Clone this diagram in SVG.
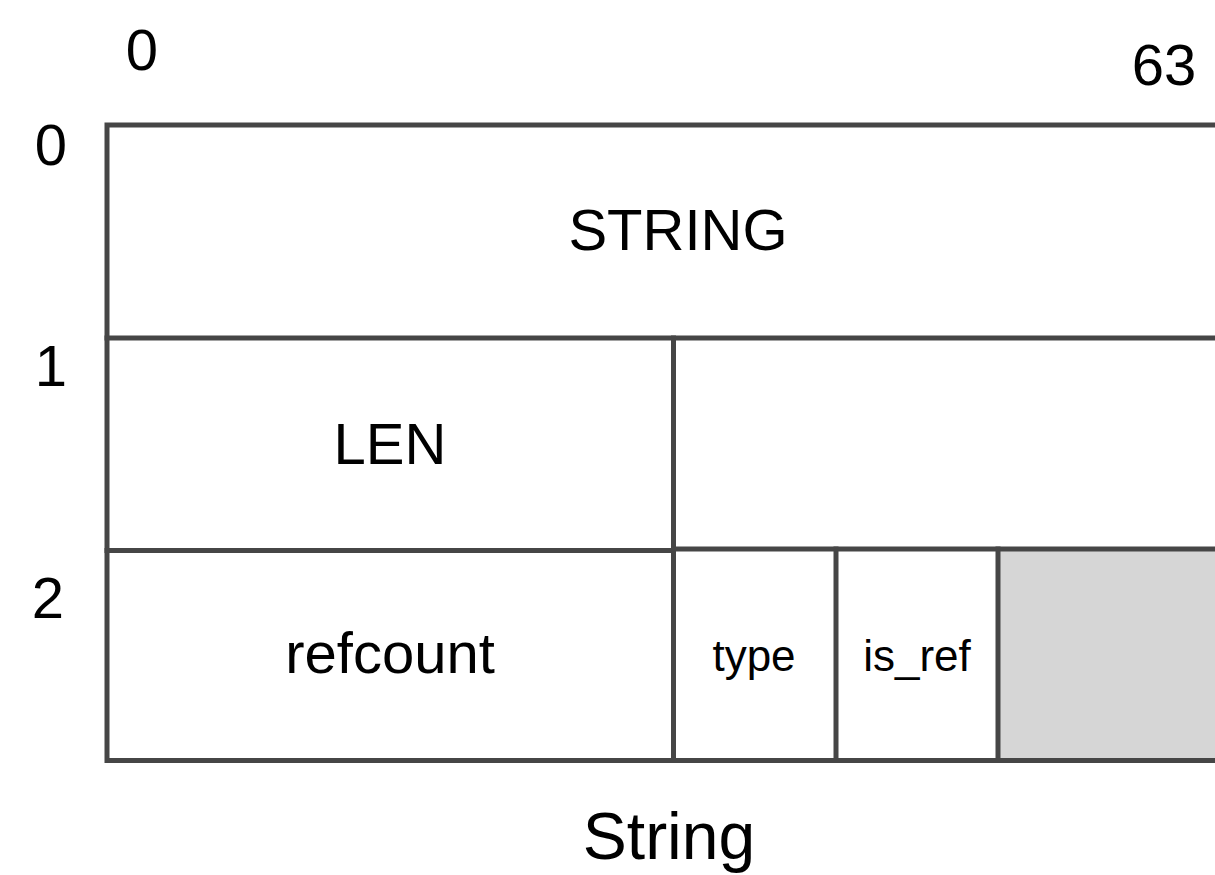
<svg xmlns="http://www.w3.org/2000/svg" width="1215" height="875" viewBox="0 0 1215 875">
<style>
  .ln { stroke: #464646; stroke-width: 5; fill: none; stroke-linecap: square; }
  .t { font-family: "Liberation Sans", Arial, sans-serif; fill: #000; text-anchor: middle; }
  .big { font-size: 58px; }
  .sm { font-size: 44px; }
  .cap { font-size: 66px; }
</style>
<rect width="1215" height="875" fill="#fff"/>
<g id="axis-labels">
  <text class="t big" x="142" y="70">0</text>
  <text class="t big" x="1164" y="85">63</text>
  <text class="t big" x="51" y="165">0</text>
  <text class="t big" x="51" y="386">1</text>
  <text class="t big" x="48" y="618">2</text>
</g>
<g id="node-string">
  <text class="t big" x="678" y="250">STRING</text>
</g>
<g id="node-len">
  <text class="t big" x="390" y="464">LEN</text>
</g>
<g id="node-refcount">
  <text class="t big" x="390" y="673">refcount</text>
</g>
<g id="node-type">
  <text class="t sm" x="754" y="671">type</text>
</g>
<g id="node-isref">
  <text class="t sm" x="917" y="671">is_ref</text>
</g>
<g id="node-pad">
  <rect x="998" y="549" width="220" height="211" fill="#d6d6d6"/>
</g>
<g id="connectors">
  <path class="ln" d="M1220 125 H107 V760.5 H1220"/>
  <path class="ln" d="M107 338 H1220"/>
  <path class="ln" d="M107 550.5 H673.5"/>
  <path class="ln" d="M673.5 549 H1220"/>
  <path class="ln" d="M673.5 338 V760.5"/>
  <path class="ln" d="M836 549 V760.5"/>
  <path class="ln" d="M998 549 V760.5"/>
</g>
<g id="caption">
  <text class="t cap" x="669" y="859">String</text>
</g>
</svg>
